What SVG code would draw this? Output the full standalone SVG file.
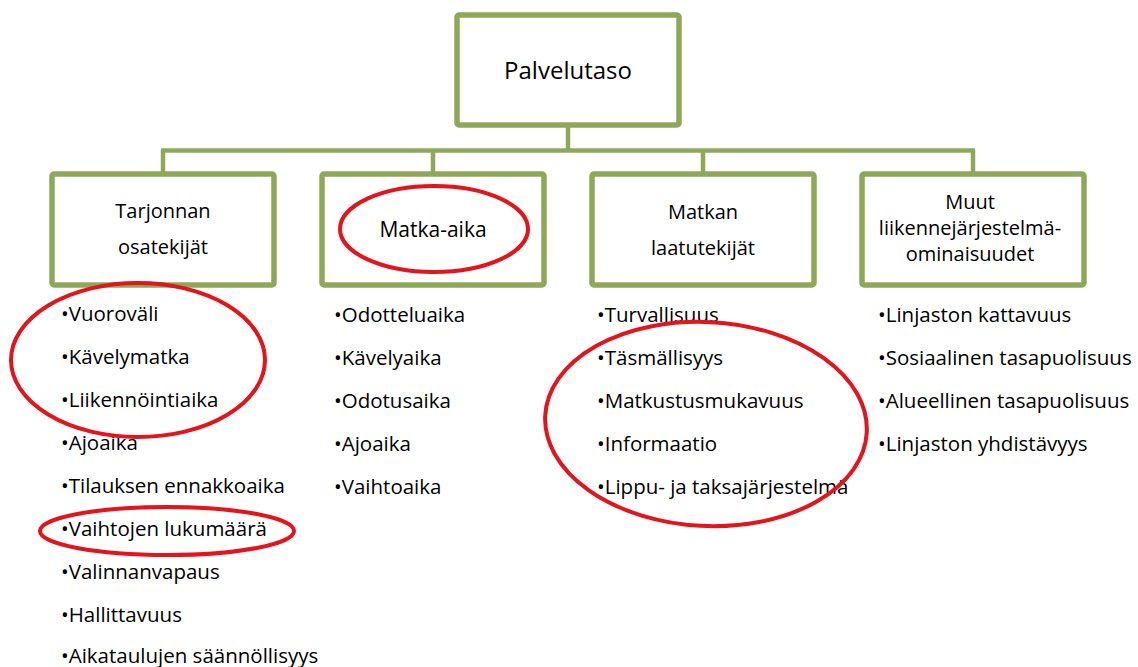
<svg xmlns="http://www.w3.org/2000/svg" width="1138" height="667" viewBox="0 0 1138 667">
  <style>
    .box { fill: #ffffff; stroke: #8ea955; stroke-width: 5.5; }
    .link { stroke: #8ea955; stroke-width: 4.5; fill: none; stroke-linecap: butt; }
    .title { font-family: "Open Sans", "Liberation Sans", sans-serif; font-size: 20px; fill: #000000; text-anchor: middle; }
    .item { font-family: "Open Sans", "Liberation Sans", sans-serif; font-size: 20.5px; fill: #000000; }
    .mark { fill: none; stroke: #e3141b; stroke-width: 4; }
  </style>
  <rect width="1138" height="667" fill="#ffffff"/>

  <!-- tree connectors -->
  <g id="connectors">
    <line class="link" x1="568" y1="127" x2="568" y2="151"/>
    <line class="link" x1="161" y1="150.5" x2="975" y2="150.5"/>
    <line class="link" x1="163" y1="150" x2="163" y2="172"/>
    <line class="link" x1="433" y1="150" x2="433" y2="172"/>
    <line class="link" x1="703" y1="150" x2="703" y2="172"/>
    <line class="link" x1="973" y1="150" x2="973" y2="172"/>
  </g>

  <g id="palvelutaso">
    <rect class="box" x="457" y="15" width="222" height="110" rx="2"/>
    <text class="title" x="568" y="79" style="font-size:24px">Palvelutaso</text>
  </g>

  <g id="tarjonnan-osatekijat">
    <rect class="box" x="52" y="174" width="222" height="111" rx="2"/>
    <text class="title" x="163" y="218">Tarjonnan</text>
    <text class="title" x="163" y="254">osatekijät</text>
  </g>

  <g id="matka-aika">
    <rect class="box" x="322" y="174" width="222" height="111" rx="2"/>
    <text class="title" x="433" y="237" style="font-size:21px">Matka-aika</text>
  </g>

  <g id="matkan-laatutekijat">
    <rect class="box" x="592" y="174" width="222" height="111" rx="2"/>
    <text class="title" x="703" y="219">Matkan</text>
    <text class="title" x="703" y="255">laatutekijät</text>
  </g>

  <g id="muut-ominaisuudet">
    <rect class="box" x="862" y="174" width="222" height="111" rx="2"/>
    <text class="title" x="970" y="209">Muut</text>
    <text class="title" x="970" y="235">liikennejärjestelmä-</text>
    <text class="title" x="970" y="261">ominaisuudet</text>
  </g>

  <!-- bullet lists under each box -->
  <g id="list-tarjonta">
    <text class="item" x="61" y="321">•Vuoroväli</text>
    <text class="item" x="61" y="364">•Kävelymatka</text>
    <text class="item" x="61" y="407">•Liikennöintiaika</text>
    <text class="item" x="61" y="450">•Ajoaika</text>
    <text class="item" x="61" y="493">•Tilauksen ennakkoaika</text>
    <text class="item" x="61" y="536">•Vaihtojen lukumäärä</text>
    <text class="item" x="61" y="579">•Valinnanvapaus</text>
    <text class="item" x="61" y="622">•Hallittavuus</text>
    <text class="item" x="61" y="663">•Aikataulujen säännöllisyys</text>
  </g>

  <g id="list-matka-aika">
    <text class="item" x="334" y="322">•Odotteluaika</text>
    <text class="item" x="334" y="365">•Kävelyaika</text>
    <text class="item" x="334" y="408">•Odotusaika</text>
    <text class="item" x="334" y="451">•Ajoaika</text>
    <text class="item" x="334" y="494">•Vaihtoaika</text>
  </g>

  <g id="list-laatu">
    <text class="item" x="597" y="322">•Turvallisuus</text>
    <text class="item" x="597" y="365">•Täsmällisyys</text>
    <text class="item" x="597" y="408">•Matkustusmukavuus</text>
    <text class="item" x="597" y="451">•Informaatio</text>
    <text class="item" x="597" y="494">•Lippu- ja taksajärjestelmä</text>
  </g>

  <g id="list-muut">
    <text class="item" x="878" y="322">•Linjaston kattavuus</text>
    <text class="item" x="878" y="365">•Sosiaalinen tasapuolisuus</text>
    <text class="item" x="878" y="408">•Alueellinen tasapuolisuus</text>
    <text class="item" x="878" y="451">•Linjaston yhdistävyys</text>
  </g>

  <!-- hand-drawn red highlight rings -->
  <g id="highlights">
    <ellipse class="mark" cx="138" cy="360" rx="127" ry="77"/>
    <ellipse class="mark" cx="434" cy="229" rx="94" ry="43"/>
    <ellipse class="mark" cx="167" cy="531" rx="127" ry="24"/>
    <ellipse class="mark" cx="706" cy="424" rx="161" ry="102" transform="rotate(3 706 424)"/>
  </g>
</svg>
